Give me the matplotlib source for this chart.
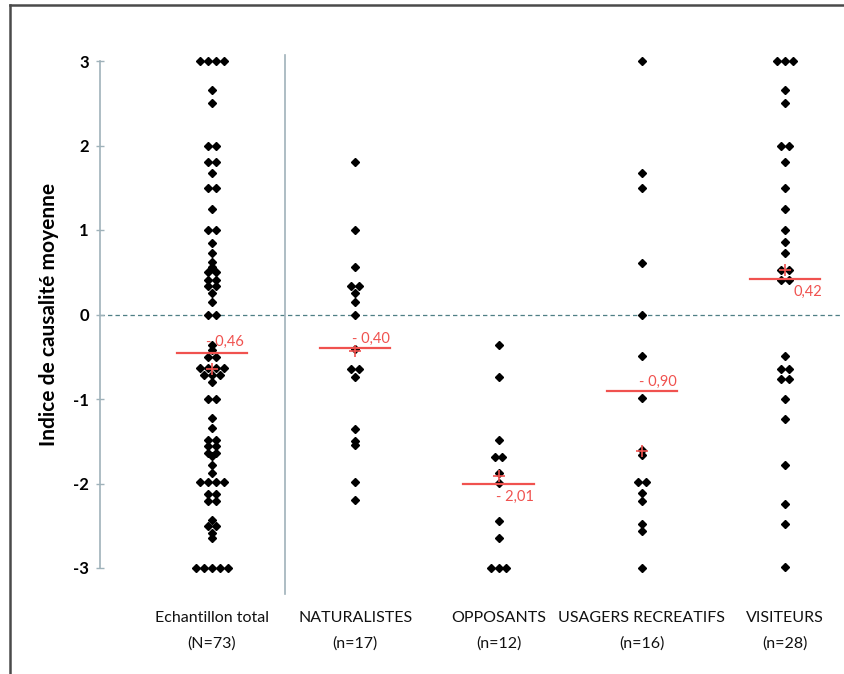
import numpy as np
import matplotlib.pyplot as plt
from matplotlib.lines import Line2D

plt.rcParams['font.family'] = ['Lato', 'DejaVu Sans']

# %% Data
groups = ['Echantillon total\n(N=73)', 'NATURALISTES\n(n=17)', 'OPPOSANTS\n(n=12)',
          'USAGERS RECREATIFS\n(n=16)', 'VISITEURS\n(n=28)']

echantillon = ([3]*4 + [2.66, 2.5] + [2.0]*2 + [1.8]*2 + [1.67] + [1.5]*2 + [1.25]
               + [1.0]*2 + [0.85, 0.73, 0.62, 0.56] + [0.5]*2 + [0.41]*2 + [0.34]*2
               + [0.26, 0.15] + [0]*2
               + [-0.36, -0.42] + [-0.5]*2 + [-0.63]*4 + [-0.72]*3 + [-0.8]
               + [-1.0]*2 + [-1.23, -1.34] + [-1.48]*2 + [-1.56]*2 + [-1.64]*2
               + [-1.68, -1.78, -1.88] + [-1.98]*4 + [-2.13]*2 + [-2.21]*2
               + [-2.43] + [-2.5]*2 + [-2.58, -2.65] + [-3]*5)
naturalistes = [1.8, 1.0, 0.56, 0.34, 0.34, 0.25, 0.15, 0.0, -0.41, -0.65, -0.65,
                -0.74, -1.35, -1.5, -1.55, -1.98, -2.19]
opposants = [-0.36, -0.74, -1.49, -1.69, -1.69, -1.88, -1.99, -2.44, -2.65, -3, -3, -3]
usagers = [3.0, 1.67, 1.5, 0.61, 0.0, -0.49, -0.99, -1.6, -1.66, -1.98, -1.98,
           -2.11, -2.21, -2.48, -2.56, -3.0]
visiteurs = ([3]*3 + [2.66, 2.5] + [2.0]*2 + [1.8, 1.5, 1.25, 1.0, 0.86, 0.73]
             + [0.53]*2 + [0.41]*2 + [-0.49] + [-0.65]*2 + [-0.76]*2
             + [-1.0, -1.24, -1.78, -2.24, -2.48, -2.99])
series = [echantillon, naturalistes, opposants, usagers, visiteurs]

means = [-0.46, -0.40, -2.01, -0.90, 0.42]
mean_labels = ['- 0,46', '- 0,40', '- 2,01', '- 0,90', '0,42']
crosses = [-0.65, -0.43, -1.91, -1.62, 0.53]

# %% Plot
fig = plt.figure(figsize=(8.45, 6.74), dpi=100)
ax = fig.add_axes([100/845, 1-568/674, 740/845, 507/674])

axis_col = '#9fb2ba'
red = '#f0524f'
step = 0.055

for i, vals in enumerate(series):
    x0 = i + 1
    v, c = np.unique(np.array(vals, dtype=float), return_counts=True)
    xs, ys = [], []
    for val, n in zip(v, c):
        for k in range(n):
            xs.append(x0 + (k - (n - 1)/2)*step)
            ys.append(val)
    ax.plot(xs, ys, 'D', color='black', markersize=4.2, clip_on=False, zorder=3)

offsets = [(-4.5, 8.5), (-2, 6.5), (-2, -9), (-2, 6), (6, -9)]
for i, (m, lab, cr) in enumerate(zip(means, mean_labels, crosses)):
    x0 = i + 1
    ax.plot([x0 - 0.245, x0 + 0.245], [m, m], color=red, lw=1.6, zorder=4)
    ax.plot(x0, cr, '+', color=red, markersize=8, mew=1.2, zorder=5)
    ax.annotate(lab, (x0, m), xytext=offsets[i], textcoords='offset points',
                ha='left', va='center', color=red, fontsize=10.5)

ax.axhline(0, color='#4f7f85', lw=0.9, ls=(0, (3.5, 2.5)), zorder=1)
ax.plot([1.51, 1.51], [3.07, -3.31], color=axis_col, lw=1.2, clip_on=False)

ax.set_xlim(1 - 112/143.25, 1 + 628/143.25)
ax.set_ylim(-3, 3)
ax.set_yticks(range(-3, 4))
ax.set_yticklabels([str(t) for t in range(-3, 4)], fontsize=12, fontweight='bold')
ax.tick_params(axis='y', direction='inout', length=6, color=axis_col, width=1, pad=5)
ax.set_xticks(range(1, 6))
ax.set_xticklabels(groups, fontsize=11.5, linespacing=2.0, color='#111111')
ax.tick_params(axis='x', length=0, pad=31)
for s in ['top', 'right', 'bottom']:
    ax.spines[s].set_visible(False)
ax.spines['left'].set_color(axis_col)
ax.spines['left'].set_linewidth(1.2)
ax.set_ylabel('Indice de causalité moyenne', fontsize=15, fontweight='bold', labelpad=10)

# outer frame
fig.add_artist(Line2D([10/845, 10/845], [0, 1 - 5/674], transform=fig.transFigure,
                      color='#4a4a4a', lw=1.8))
fig.add_artist(Line2D([10/845, 1], [1 - 5/674, 1 - 5/674], transform=fig.transFigure,
                      color='#4a4a4a', lw=1.8))

fig.savefig('out.png', dpi=100)
